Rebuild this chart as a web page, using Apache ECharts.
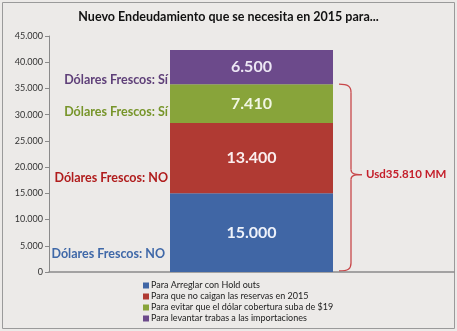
<!DOCTYPE html>
<html><head><meta charset="utf-8">
<script src="https://cdn.jsdelivr.net/npm/echarts@6/dist/echarts.min.js"></script>
<style>html,body{margin:0;padding:0;background:#fff}#c{width:457px;height:331px}</style>
</head><body><div id="c"></div>
<script>
const title = 'Nuevo Endeudamiento que se necesita en 2015 para...';
const categories = [''];
const seriesNames = ['Para Arreglar con Hold outs','Para que no caigan las reservas en 2015','Para evitar que el dólar cobertura suba de $19','Para levantar trabas a las importaciones'];
const seriesValues = [15000, 13400, 7410, 6500];
const seriesColors = ['#4066a5','#b03a33','#88a43a','#6c4a8b'];
const valueLabelColors = ['#eef2fa','#fbeeee','#f1f6e4','#ece6f4'];
const sideLabels = ['Dólares Frescos: NO','Dólares Frescos: NO','Dólares Frescos: Sí','Dólares Frescos: Sí'];
const sideLabelColors = ['#3f68a8','#b01c1c','#77952a','#5e3f78'];
const sideLabelValues = [3400, 18000, 30600, 36700];
const yTicks = {min:0, max:45000, interval:5000};
const braceText = 'Usd35.810 MM';
const braceSeriesCount = 3;

const fmt = v => String(v).replace(/\B(?=(\d{3})+(?!\d))/g, '.');
const FONT = 'Lato, "Open Sans", sans-serif';

const chart = echarts.init(document.getElementById('c'), null, {renderer:'canvas'});
const series = seriesValues.map((v,i)=>({
  name: seriesNames[i], type:'bar', stack:'s', barWidth:163,
  data:[v], itemStyle:{color:seriesColors[i]},
  label:{show:true, position:'inside', formatter: p=>fmt(p.value), color:valueLabelColors[i],
    fontFamily:FONT, fontSize:16, fontWeight:'bold'}
}));
chart.setOption({
  backgroundColor:'#eceae8',
  animation:false,
  title:{text:title, left:'center', top:5, textStyle:{fontFamily:FONT, fontSize:12.5, fontWeight:'bold', color:'#111'}},
  grid:{left:49, right:3, top:36, bottom:59},
  legend:{orient:'vertical', left:143, top:280, padding:0, itemWidth:6, itemHeight:6, itemGap:0, icon:'rect', width:300, height:60,
    textStyle:{fontFamily:FONT, fontSize:9, lineHeight:11, color:'#222', padding:[0,0,0,-3]}, data:seriesNames},
  xAxis:{type:'category', data:categories, axisLine:{lineStyle:{color:'#8a8a8a', width:1.5}}, axisTick:{show:false}, axisLabel:{show:false}},
  yAxis:{type:'value', min:yTicks.min, max:yTicks.max, interval:yTicks.interval,
    axisLine:{show:true, lineStyle:{color:'#8a8a8a'}}, axisTick:{show:true, length:4, lineStyle:{color:'#8a8a8a'}},
    splitLine:{show:false},
    axisLabel:{formatter:v=>fmt(v), fontFamily:FONT, fontSize:9, color:'#333', margin:6}},
  series
});

const px = v => chart.convertToPixel({gridIndex:0}, [0, v]);
const graphics = [];
graphics.push({type:'rect', shape:{x:2.5, y:2.5, width:452, height:326}, style:{fill:'none', stroke:'#9a9a9a', lineWidth:1}, silent:true, z:0});
const sideRight = [165, 168, 168, 168];
sideLabels.forEach((t,i)=>{
  const p = px(sideLabelValues[i]);
  graphics.push({type:'text', x:sideRight[i], y:p[1], style:{text:t, fill:sideLabelColors[i], font:'bold 12.5px '+FONT, align:'right', verticalAlign:'middle'}});
});
const braceTop = seriesValues.slice(0,braceSeriesCount).reduce((a,b)=>a+b,0);
const yTop = px(braceTop)[1], yBot = px(0)[1]-1;
const yMid = (yTop+yBot)/2 - 3;
const x0 = 339, x1 = 351, xt = 362;
const bs = {fill:'none', stroke:'#c8474a', lineWidth:1.3};
const bez = (a,b,c,d)=>({type:'bezierCurve', shape:{x1:a[0],y1:a[1],cpx1:b[0],cpy1:b[1],cpx2:c[0],cpy2:c[1],x2:d[0],y2:d[1]}, style:bs});
const ln = (a,b)=>({type:'line', shape:{x1:a[0],y1:a[1],x2:b[0],y2:b[1]}, style:bs});
graphics.push(bez([x0,yTop],[x1-3,yTop],[x1,yTop+2],[x1,yTop+8]));
graphics.push(ln([x1,yTop+8],[x1,yMid-5]));
graphics.push(bez([x1,yMid-5],[x1,yMid-1],[x1+3,yMid],[xt,yMid]));
graphics.push(bez([xt,yMid],[x1+3,yMid],[x1,yMid+1],[x1,yMid+5]));
graphics.push(ln([x1,yMid+5],[x1,yBot-8]));
graphics.push(bez([x1,yBot-8],[x1,yBot-2],[x1-3,yBot],[x0,yBot]));
graphics.push({type:'text', x:366, y:yMid, style:{text:braceText, fill:'#c41e2a', font:'bold 11.5px '+FONT, verticalAlign:'middle'}});
chart.setOption({graphic:graphics});
</script></body></html>
